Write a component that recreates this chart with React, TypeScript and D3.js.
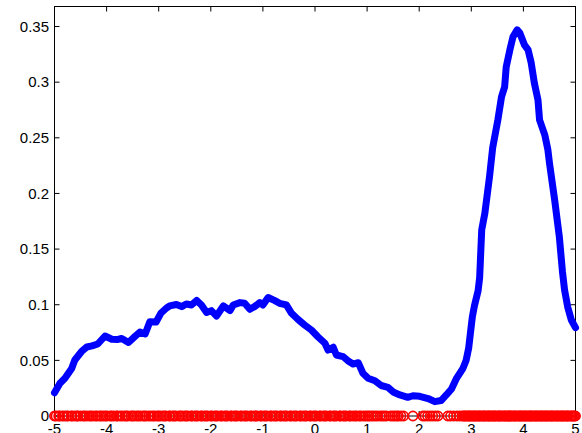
import React from "react";
import * as d3 from "d3";

// Estimated density curve (x, density)
const curveX = [
  -5.0, -4.895, -4.8, -4.67, -4.61, -4.48, -4.38, -4.28, -4.17, -4.03, -3.9, -3.78, -3.71, -3.58, -3.46,
  -3.36, -3.26, -3.17, -3.05, -2.96, -2.85, -2.79, -2.66, -2.56, -2.47, -2.37, -2.27, -2.18, -2.08, -1.99,
  -1.89, -1.76, -1.63, -1.57, -1.44, -1.35, -1.25, -1.16, -1.06, -1.0, -0.9, -0.77, -0.68, -0.55, -0.45,
  -0.33, -0.2, -0.07, 0.06, 0.19, 0.25, 0.35, 0.41, 0.54, 0.63, 0.73, 0.83, 0.92, 1.02, 1.15,
  1.27, 1.4, 1.5, 1.63, 1.78, 1.88, 2.01, 2.17, 2.3, 2.42, 2.52, 2.62, 2.71, 2.84, 2.9,
  2.95, 2.99, 3.02, 3.06, 3.13, 3.16, 3.2, 3.26, 3.35, 3.41, 3.51, 3.58, 3.64, 3.67, 3.74,
  3.8, 3.88, 3.93, 4.02, 4.09, 4.15, 4.21, 4.28, 4.31, 4.41, 4.47, 4.5, 4.6, 4.69, 4.75,
  4.79, 4.85, 4.92, 5.0,
];
const curveY = [
  0.0209, 0.0294, 0.0339, 0.0427, 0.0503, 0.058, 0.062, 0.063, 0.0647, 0.0719, 0.069, 0.0688, 0.0697, 0.0661, 0.0713,
  0.0755, 0.0737, 0.0848, 0.0845, 0.0923, 0.0971, 0.0989, 0.1002, 0.0983, 0.1007, 0.0998, 0.1038, 0.0998, 0.093, 0.0947,
  0.0899, 0.0989, 0.0947, 0.0998, 0.1019, 0.1013, 0.0959, 0.0983, 0.1019, 0.0998, 0.1065, 0.1037, 0.1013, 0.0998, 0.0923,
  0.0869, 0.0818, 0.0773, 0.071, 0.0654, 0.0593, 0.0618, 0.0548, 0.0533, 0.0497, 0.0467, 0.0479, 0.0384, 0.0339, 0.0317,
  0.0274, 0.0258, 0.0216, 0.0189, 0.0168, 0.0182, 0.0177, 0.0157, 0.0129, 0.0139, 0.0189, 0.0243, 0.0333, 0.0429, 0.0499,
  0.0611, 0.0773, 0.089, 0.0989, 0.1124, 0.1241, 0.1673, 0.1822, 0.2151, 0.2409, 0.2661, 0.2868, 0.2958, 0.3137, 0.329,
  0.3407, 0.347, 0.3443, 0.3335, 0.329, 0.3173, 0.2993, 0.284, 0.2661, 0.2527, 0.2392, 0.2275, 0.1942, 0.161, 0.1295,
  0.1133, 0.098, 0.0863, 0.0794,
];

// Sample locations, plotted as circles on the baseline
const samples = [
  -5.0, -4.97, -4.92, -4.9, -4.85, -4.81, -4.77, -4.74, -4.68, -4.66, -4.61, -4.57, -4.55, -4.5, -4.45,
  -4.42, -4.38, -4.33, -4.3, -4.26, -4.21, -4.18, -4.13, -4.1, -4.06, -4.02, -3.99, -3.93, -3.9, -3.86,
  -3.81, -3.79, -3.74, -3.7, -3.65, -3.62, -3.59, -3.53, -3.5, -3.47, -3.42, -3.39, -3.35, -3.3, -3.27,
  -3.24, -3.19, -3.15, -3.11, -3.08, -3.03, -3.0, -2.97, -2.92, -2.89, -2.86, -2.8, -2.78, -2.73, -2.7,
  -2.67, -2.61, -2.58, -2.55, -2.5, -2.47, -2.44, -2.38, -2.36, -2.31, -2.28, -2.25, -2.19, -2.17, -2.12,
  -2.09, -2.06, -2.0, -1.98, -1.93, -1.9, -1.87, -1.81, -1.79, -1.74, -1.71, -1.68, -1.62, -1.6, -1.55,
  -1.52, -1.49, -1.43, -1.41, -1.36, -1.33, -1.3, -1.24, -1.22, -1.17, -1.14, -1.11, -1.05, -1.03, -0.98,
  -0.95, -0.92, -0.86, -0.84, -0.79, -0.76, -0.73, -0.67, -0.65, -0.6, -0.57, -0.54, -0.48, -0.46, -0.41,
  -0.38, -0.35, -0.29, -0.27, -0.22, -0.19, -0.16, -0.1, -0.08, -0.03, 0.0, 0.03, 0.09, 0.11, 0.16,
  0.19, 0.22, 0.28, 0.3, 0.35, 0.38, 0.41, 0.47, 0.49, 0.54, 0.57, 0.6, 0.66, 0.68, 0.73,
  0.77, 0.8, 0.85, 0.88, 0.93, 0.97, 1.01, 1.04, 1.08, 1.12, 1.16, 1.2, 1.25, 1.29, 1.33,
  1.37, 1.45, 1.49, 1.53, 1.57, 1.6, 1.65, 1.7, 1.88, 2.07, 2.11, 2.16, 2.21, 2.26, 2.31,
  2.36, 2.55, 2.6, 2.66, 2.72, 2.77, 2.82, 2.85, 2.87, 2.89, 2.92, 2.94, 2.96, 2.98, 3.0,
  3.03, 3.05, 3.07, 3.09, 3.12, 3.14, 3.16, 3.18, 3.21, 3.23, 3.25, 3.27, 3.3, 3.32, 3.34,
  3.36, 3.38, 3.41, 3.43, 3.45, 3.47, 3.5, 3.52, 3.54, 3.56, 3.58, 3.61, 3.63, 3.65, 3.67,
  3.7, 3.72, 3.74, 3.76, 3.78, 3.81, 3.83, 3.85, 3.87, 3.9, 3.92, 3.94, 3.96, 3.98, 4.01,
  4.03, 4.05, 4.07, 4.1, 4.12, 4.14, 4.16, 4.18, 4.21, 4.23, 4.25, 4.27, 4.3, 4.32, 4.34,
  4.36, 4.38, 4.41, 4.43, 4.45, 4.47, 4.5, 4.52, 4.54, 4.56, 4.58, 4.61, 4.63, 4.65, 4.67,
  4.7, 4.72, 4.74, 4.76, 4.78, 4.81, 4.83, 4.85, 4.87, 4.9, 4.92, 4.94, 4.96, 4.98, 5.0,
];

const xTicks = [-5, -4, -3, -2, -1, 0, 1, 2, 3, 4, 5];
const yTicks = [0, 0.05, 0.1, 0.15, 0.2, 0.25, 0.3, 0.35];
const xDomain = [-5, 5];
const yDomain = [0, 0.368];

const W = 582;
const H = 433;
const plot = { left: 54.5, right: 575.5, top: 6.5, bottom: 416 };
const FONT = "'Liberation Sans', Arial, Helvetica, sans-serif";

export default function App() {
  const x = d3.scaleLinear().domain(xDomain).range([plot.left, plot.right]);
  const y = d3.scaleLinear().domain(yDomain).range([plot.bottom, plot.top]);
  const line = d3
    .line<number>()
    .x((_, i) => x(curveX[i]))
    .y((d) => y(d));
  const tick = 5;

  return (
    <svg
      width={W}
      height={H}
      style={{ position: "absolute", left: 0, top: 0, background: "#fff" }}
      fontFamily={FONT}
    >
      <rect x={0} y={0} width={W} height={H} fill="#fff" />
      {/* axes box */}
      <rect
        x={plot.left}
        y={plot.top}
        width={plot.right - plot.left}
        height={plot.bottom - plot.top}
        fill="none"
        stroke="#000"
        strokeWidth={1}
      />
      {xTicks.map((t) => (
        <g key={"x" + t}>
          <line x1={x(t)} x2={x(t)} y1={plot.bottom} y2={plot.bottom - tick} stroke="#000" />
          <line x1={x(t)} x2={x(t)} y1={plot.top} y2={plot.top + tick} stroke="#000" />
          <text x={x(t)} y={434} fontSize={15} textAnchor="middle" fill="#000">
            {String(t)}
          </text>
        </g>
      ))}
      {yTicks.map((t) => (
        <g key={"y" + t}>
          <line x1={plot.left} x2={plot.left + tick} y1={y(t)} y2={y(t)} stroke="#000" />
          <line x1={plot.right} x2={plot.right - tick} y1={y(t)} y2={y(t)} stroke="#000" />
          <text
            x={plot.left - 5.5}
            y={y(t)}
            dy="0.35em"
            fontSize={15}
            textAnchor="end"
            fill="#000"
          >
            {String(t)}
          </text>
        </g>
      ))}
      <path
        d={line(curveY) || ""}
        fill="none"
        stroke="#0000ff"
        strokeWidth={7}
        strokeLinejoin="round"
        strokeLinecap="round"
      />
      {samples.map((s, i) => (
        <circle key={i} cx={x(s)} cy={y(0)} r={4.6} fill="none" stroke="#ff0000" strokeWidth={1.7} />
      ))}
    </svg>
  );
}
